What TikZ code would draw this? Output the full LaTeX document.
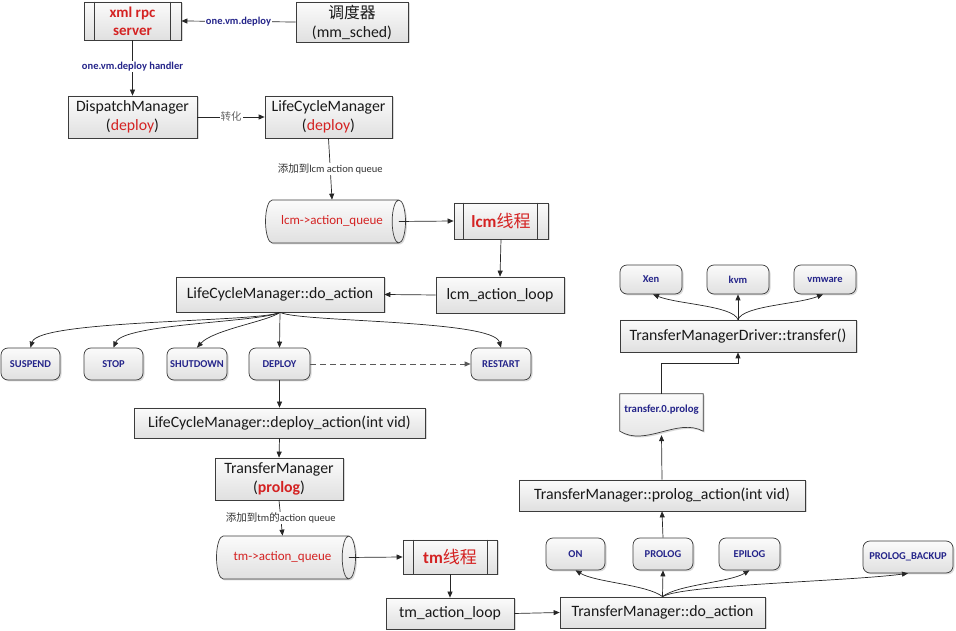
\documentclass[tikz,border=0pt]{standalone}
\usepackage{fontspec}
\setmainfont{Carlito}
\newfontfamily\cjk{Noto Sans CJK SC}
\usetikzlibrary{arrows.meta,shapes.geometric,shadows,calc,backgrounds}
\definecolor{boxline}{HTML}{3C3C3C}
\definecolor{labblue}{HTML}{25258A}
\definecolor{labred}{HTML}{D42222}
\definecolor{boxtop}{HTML}{FBFBFB}
\definecolor{boxbot}{HTML}{E0E0E0}
\definecolor{notegray}{HTML}{333333}
\tikzset{
  base/.style={draw=boxline, line width=0.7pt, top color=boxtop, bottom color=boxbot,
    drop shadow={shadow xshift=1.5pt, shadow yshift=-1.5pt, opacity=0.3},
    inner sep=0pt, align=center, text=black!90},
  box/.style={base, rectangle, font=\fontsize{15.8}{19}\selectfont},
  tag/.style={base, rounded corners=7pt, text=labblue, font=\bfseries\fontsize{10.5}{12}\selectfont},
  queue/.style={base, cylinder, shape aspect=1.2, text=labred, font=\fontsize{13}{15}\selectfont},
  flow/.style={-{Triangle[length=6pt,width=5pt]}, line width=0.7pt, draw=black!85},
  lab/.style={fill=white, inner sep=1pt},
  bluelab/.style={lab, text=labblue, font=\bfseries\fontsize{10.5}{12}\selectfont},
  graylab/.style={lab, text=notegray, font=\fontsize{10.5}{12}\selectfont}
}
\begin{document}
\begin{tikzpicture}[x=1pt,y=1pt]
\useasboundingbox (0,0) rectangle (956,631);

% ---- top: rpc server, scheduler, managers
\node[box, minimum width=97pt, minimum height=38pt, text=labred,
      font=\bfseries\fontsize{15}{18}\selectfont] (xml) at (132.5,610) {xml rpc\\server};
\draw[boxline, line width=0.7pt] ([xshift=11pt]xml.north west) -- ([xshift=11pt]xml.south west)
      ([xshift=-11pt]xml.north east) -- ([xshift=-11pt]xml.south east);
\node[box, minimum width=112pt, minimum height=40pt] (sched) at (352,609) {{\cjk 调度器}\\(mm\_sched)};
\node[box, minimum width=129pt, minimum height=42pt] (dispatch) at (132.5,514)
      {DispatchManager\\(\textcolor{labred}{deploy})};
\node[box, minimum width=127pt, minimum height=42pt] (lcm) at (328.5,514)
      {LifeCycleManager\\(\textcolor{labred}{deploy})};

\draw[flow] (sched.west) -- node[bluelab] {one.vm.deploy} (xml.east);
\draw[flow] (xml.south) -- node[bluelab, pos=0.47] {one.vm.deploy handler} (dispatch.north);
\draw[flow] (dispatch.east) -- node[graylab, text=black!60] {\cjk 转化} (lcm.west);

% ---- lcm queue and thread
\node[queue, minimum height=140pt, minimum width=43pt] (lcmq) at (332,409.5) {lcm->action\_queue};
\node[box, minimum width=94pt, minimum height=36pt, text=labred, font=\fontsize{17}{19}\selectfont]
      (lcmthread) at (501,410) {\textbf{lcm}{\cjk 线程}};
\draw[boxline, line width=0.7pt] ([xshift=10pt]lcmthread.north west) -- ([xshift=10pt]lcmthread.south west)
      ([xshift=-11pt]lcmthread.north east) -- ([xshift=-11pt]lcmthread.south east);
\node[box, minimum width=128pt, minimum height=36pt] (lcmloop) at (500,336) {lcm\_action\_loop};
\node[box, minimum width=208pt, minimum height=35pt] (doaction) at (280,336.5) {LifeCycleManager::do\_action};

\draw[flow] (lcm.south) -- node[graylab, pos=0.5] {{\cjk 添加到}lcm action queue} (lcmq.north);
\draw[flow] ([xshift=-7pt]lcmq.east) -- (lcmthread.west);
\draw[flow] (lcmthread.south) -- (lcmloop.north);
\draw[flow] (lcmloop.west) -- (doaction.east);

% ---- lcm actions
\node[tag, minimum width=59pt, minimum height=32pt] (suspend) at (30.5,267) {SUSPEND};
\node[tag, minimum width=59pt, minimum height=32pt] (stop) at (113.5,267) {STOP};
\node[tag, minimum width=60pt, minimum height=32pt] (shutdown) at (197,267) {SHUTDOWN};
\node[tag, minimum width=61pt, minimum height=32pt] (deploy) at (279.5,267) {DEPLOY};
\node[tag, minimum width=60pt, minimum height=32pt] (restart) at (501,267) {RESTART};

\draw[flow] (doaction.south) .. controls +(-20,-10) and +(8,28) .. (suspend.north);
\draw[flow] (doaction.south) .. controls +(-20,-10) and +(10,24) .. (stop.north);
\draw[flow] (doaction.south) .. controls +(-12,-9) and +(16,18) .. (shutdown.north);
\draw[flow] (doaction.south) -- (deploy.north);
\draw[flow] (doaction.south) .. controls +(20,-10) and +(-8,28) .. (restart.north);
\draw[flow, dashed, dash pattern=on 6pt off 4pt, draw=black!65] (deploy.east) -- (restart.west);

% ---- deploy path to transfer manager
\node[box, minimum width=291pt, minimum height=30pt] (deployaction) at (279.5,208)
      {LifeCycleManager::deploy\_action(int vid)};
\node[box, minimum width=128pt, minimum height=42pt] (tm) at (279,152)
      {TransferManager\\(\textcolor{labred}{\textbf{prolog}})};
\node[queue, minimum height=139pt, minimum width=43pt] (tmq) at (282.5,73.5) {tm->action\_queue};
\node[box, minimum width=94pt, minimum height=34pt, text=labred, font=\fontsize{17}{19}\selectfont]
      (tmthread) at (450,74) {\textbf{tm}{\cjk 线程}};
\draw[boxline, line width=0.7pt] ([xshift=11pt]tmthread.north west) -- ([xshift=11pt]tmthread.south west)
      ([xshift=-10pt]tmthread.north east) -- ([xshift=-10pt]tmthread.south east);
\node[box, minimum width=128pt, minimum height=31pt] (tmloop) at (450,17.5) {tm\_action\_loop};
\node[box, minimum width=205pt, minimum height=31pt] (tmdo) at (662.5,18.5) {TransferManager::do\_action};

\draw[flow] (deploy.south) -- (deployaction.north);
\draw[flow] (deployaction.south) -- (tm.north);
\draw[flow] (tm.south) -- node[graylab, pos=0.5] {{\cjk 添加到}tm{\cjk 的}action queue} (tmq.north);
\draw[flow] ([xshift=-7pt]tmq.east) -- (tmthread.west);
\draw[flow] (tmthread.south) -- (tmloop.north);
\draw[flow] (tmloop.east) -- (tmdo.west);

% ---- transfer manager actions
\node[tag, minimum width=59pt, minimum height=32pt] (on) at (575.5,77) {ON};
\node[tag, minimum width=60pt, minimum height=32pt] (prolog) at (663,77) {PROLOG};
\node[tag, minimum width=61pt, minimum height=32pt] (epilog) at (749.5,77) {EPILOG};
\node[tag, minimum width=90pt, minimum height=32pt] (backup) at (908,74) {PROLOG\_BACKUP};

\draw[flow] (tmdo.north) .. controls +(-15,12) and +(20,-12) .. (on.south);
\draw[flow] (tmdo.north) -- (prolog.south);
\draw[flow] (tmdo.north) .. controls +(15,12) and +(-20,-12) .. (epilog.south);
\draw[flow] (tmdo.north) .. controls +(20,12) and +(-60,-8) .. (backup.south);

% ---- prolog path to the driver
\node[box, minimum width=286pt, minimum height=31pt] (prologaction) at (662,135.5)
      {TransferManager::prolog\_action(int vid)};
\node[inner sep=0pt, minimum width=83pt, minimum height=41pt, text=labblue, anchor=center,
      font=\bfseries\fontsize{10.8}{12}\selectfont, text depth=12pt] (doc) at (661.5,216.5) {transfer.0.prolog};
\begin{scope}[on background layer]
\draw[draw=boxline, line width=0.7pt, top color=boxtop, bottom color=boxbot,
      drop shadow={shadow xshift=1.5pt, shadow yshift=-1.5pt, opacity=0.3}]
  ([yshift=4pt]doc.south west) -- (doc.north west) -- (doc.north east) -- ([yshift=4pt]doc.south east)
  .. controls ($(doc.south)+(16,18)$) and ($(doc.south)+(-16,-12)$) .. ([yshift=4pt]doc.south west) -- cycle;
\end{scope}
\node[box, minimum width=236pt, minimum height=32pt] (driver) at (738,295) {TransferManagerDriver::transfer()};

\draw[flow] (prolog.north) -- (prologaction.south);
\draw[flow] (prologaction.north) -- (doc.south);
\draw[flow] (doc.north) -- ++(0,30) -| (driver.south);

% ---- hypervisors
\node[tag, minimum width=62pt, minimum height=29pt] (xen) at (651,351.5) {Xen};
\node[tag, minimum width=62pt, minimum height=29pt] (kvm) at (738,351.5) {kvm};
\node[tag, minimum width=62pt, minimum height=29pt] (vmware) at (825,351.5) {vmware};

\draw[flow] (driver.north) .. controls +(-5,14) and +(25,-10) .. ([xshift=2pt]xen.south);
\draw[flow] (driver.north) -- (kvm.north |- kvm.south);
\draw[flow] (driver.north) .. controls +(5,14) and +(-25,-10) .. ([xshift=-2pt]vmware.south);
\end{tikzpicture}
\end{document}
